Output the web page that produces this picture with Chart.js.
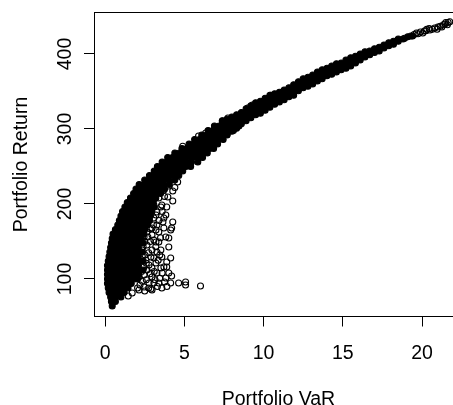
<!DOCTYPE html>
<html lang="en">
<head>
    <meta charset="UTF-8">
    <title>Portfolio VaR vs Return</title>
    <style>
        html, body { margin: 0; padding: 0; background: #fff; overflow: hidden; }
        /* the original plot runs a little past the right edge of the picture */
        #wrap { width: 453px; height: 405px; overflow: hidden; }
    </style>
</head>
<body>
    <div id="wrap"><canvas id="myChart" width="468" height="405"></canvas></div>

    <script src="https://cdn.jsdelivr.net/npm/chart.js"></script>
    <script>
        const xTicks = [0, 5, 10, 15, 20]
        const yTicks = [100, 200, 300, 400]

        // overplotted part on the left: one return level, then the VaR values on it
        const massReturn = [64, 70, 76, 82, 88, 94, 100, 106, 112, 118, 124, 130, 136, 142, 148, 154, 160, 166, 172, 178, 184, 190, 196, 202, 208, 214, 220, 226, 232, 238, 244, 250, 256, 262, 268, 274, 280, 286, 292, 298, 304]
        const massVar = [
            [.45],
            [.4, .65],
            [.35, .65, 1],
            [.25, .55, .85, 1.2],
            [.2, .5, .8, 1.1, 1.45],
            [.15, .45, .75, 1.05, 1.35, 1.65],
            [.15, .45, .75, 1.05, 1.35, 1.65, 1.85, 2.05],
            [.15, .45, .75, 1.05, 1.35, 1.65, 1.85, 2.1],
            [.15, .45, .75, 1.05, 1.35, 1.65, 1.85, 2.1, 2.4],
            [.15, .45, .75, 1.05, 1.35, 1.65, 1.85, 2.1],
            [.2, .5, .8, 1.1, 1.4, 1.7, 1.85, 2.1, 2.4],
            [.25, .55, .85, 1.15, 1.45, 1.7, 1.85, 2.1],
            [.3, .6, .9, 1.2, 1.5, 1.85, 2.1, 2.35],
            [.35, .65, .95, 1.25, 1.55, 1.85, 2.1],
            [.4, .7, 1, 1.3, 1.6, 1.9, 2.15, 2.4],
            [.45, .75, 1.05, 1.35, 1.65, 2, 2.25],
            [.5, .8, 1.1, 1.4, 1.7, 2, 2.2, 2.45],
            [.65, .95, 1.25, 1.55, 1.85, 2.1, 2.3, 2.5],
            [.8, 1.1, 1.4, 1.7, 2, 2.25, 2.45, 2.65],
            [.9, 1.2, 1.5, 1.8, 2.1, 2.35, 2.6, 2.8],
            [1, 1.3, 1.6, 1.9, 2.2, 2.45, 2.65, 2.85],
            [1.1, 1.4, 1.7, 2, 2.3, 2.55, 2.75, 2.95],
            [1.25, 1.55, 1.85, 2.15, 2.45, 2.7, 2.9, 3.1],
            [1.4, 1.7, 2, 2.3, 2.6, 2.8, 3],
            [1.6, 1.9, 2.2, 2.5, 2.8, 3, 3.2],
            [1.8, 2.1, 2.4, 2.7, 3, 3.25, 3.5],
            [1.95, 2.25, 2.55, 2.85, 3.15, 3.45, 3.75],
            [2.15, 2.45, 2.75, 3.05, 3.35, 3.7, 4.05],
            [2.5, 2.8, 3.1, 3.4, 3.7, 4.05, 4.4],
            [2.8, 3.1, 3.4, 3.7, 4, 4.35, 4.65],
            [3.1, 3.4, 3.7, 4, 4.3, 4.6, 4.9],
            [3.3, 3.6, 3.9, 4.2, 4.5, 4.8, 5.1, 5.4],
            [3.6, 3.9, 4.2, 4.5, 4.8, 5.1, 5.45, 5.85],
            [3.95, 4.25, 4.55, 4.85, 5.15, 5.5, 5.85, 6.15],
            [4.4, 4.7, 5, 5.3, 5.6, 5.9, 6.2, 6.45],
            [4.85, 5.15, 5.45, 5.75, 6.05, 6.35, 6.6, 6.85],
            [5.3, 5.6, 5.9, 6.2, 6.5, 6.8, 7.1],
            [5.65, 5.95, 6.25, 6.55, 6.85, 7.15, 7.45],
            [6.1, 6.4, 6.7, 7, 7.3, 7.7],
            [6.5, 6.8, 7.1, 7.4, 7.7, 8.1],
            [6.9, 7.2, 7.5, 7.8, 8.1, 8.45]
        ]

        // upper band: one VaR value, then the returns on it
        const bandVar = [7.4, 7.7, 8, 8.3, 8.6, 8.9, 9.2, 9.5, 9.8, 10.1, 10.4, 10.7, 11, 11.3, 11.6, 11.9, 12.2, 12.5, 12.8, 13.1, 13.4, 13.7, 14, 14.3, 14.6, 14.9, 15.2, 15.5, 15.8, 16.1, 16.4, 16.7, 17, 17.3, 17.6, 17.9, 18.2, 18.5, 18.8, 19.1, 19.4]
        const bandReturn = [
            [288, 294, 300, 306, 311],
            [293, 300, 307, 313],
            [297, 303, 310, 316],
            [301, 307, 313, 319],
            [307, 312, 317, 322],
            [311, 316, 322, 327],
            [315, 320, 326, 331],
            [319, 324, 330, 335],
            [321, 327, 332, 337],
            [325, 330, 336, 341],
            [329, 334, 340, 345],
            [333, 338, 343, 347],
            [336, 341, 345, 349],
            [339, 344, 348, 352],
            [343, 347, 351, 355],
            [345, 350, 355, 359],
            [351, 357, 363],
            [355, 361, 367],
            [357, 363, 369],
            [360, 366, 372],
            [364, 370, 376],
            [367, 373, 379],
            [371, 376, 381],
            [373, 378, 384],
            [376, 381, 387],
            [379, 384, 388],
            [381, 387, 392],
            [384, 390, 395],
            [388, 393, 397],
            [392, 396, 400],
            [396, 403],
            [399, 404],
            [402, 407],
            [404, 409],
            [408, 412],
            [411, 415],
            [413, 417],
            [417, 420],
            [420],
            [423],
            [424]
        ]

        // open circles that can still be told apart
        const looseVar = [6.02, 5.08, 5.08, 4.64, 4.2, 4.14, 3.83, 3.58, 2.96, 2.89, 3.08, 3.39, 4.14, 3.89, 4.02, 3.83, 4.02, 4.2, 4.27, 4.14, 3.71, 3.71, 3.83, 4.27, 4.27, 4.58, 3.96, 3.58, 3.27, 3.39, 3.21, 2.46, 3.52, 3.27, 3.58, 3.89, 3.71, 3.52, 4.02, 3.27, 2.96, 2.77, 2.46, 1.46, 1.71, 2.14, 2.33, 2.89, 3.21, 2.64, 2.96, 3.27, 2.77, 3.52, 3.89, 3.21, 3.39, 3.21, 2.96, 2.64, 2.96, 2.58, 2.52, 2.77, 2.46, 3.08, 2.64, 3.08, 2.77, 3.08, 3.39, 3.71, 4.02, 2.64, 3.08, 5.9, 6.35, 7.4, 7.75, 9, 9.3, 10.45, 4.9,
            2.05, 2.2, 2.35, 2.5, 2.6, 2.75, 2.85, 2.15, 2.3, 2.45, 2.6, 2.2, 2.35, 2.15, 2.4, 2.2, 2.5, 2.35, 2.25, 2.5, 2.7, 2.85, 2.55, 2.4, 2.7, 2.9, 3.05, 2.85, 2.75, 2.95, 3.1, 3.15, 3.3, 3.45, 3.6, 3.75, 3.9, 3.35, 3.45, 3.2, 3.5, 3.05, 3.2, 3.35, 3.55, 3.75, 3.6, 3, 2.85, 3.4, 3.65, 2.95, 4.4, 4.5, 4.2, 3.95, 4.75, 5,
            18.9, 19.3, 19.5, 19.65, 19.75, 19.9, 20.05, 20.15, 20.25, 20.3, 20.45, 20.5, 20.65, 20.8, 20.95, 21, 21.15, 21.25, 21.35, 21.45, 21.5, 21.6, 21.65, 21.75]
        const looseReturn = [90.7, 96, 92, 94.7, 104, 94.7, 101.3, 88, 85.3, 86.7, 94.7, 94.7, 128, 116, 142.7, 156, 154.7, 168, 176, 165.3, 168, 181.3, 185.3, 204, 217.3, 229.3, 209.3, 198.7, 189.3, 149.3, 149.3, 156, 138.7, 136, 129.3, 122.7, 116, 114.7, 108, 108, 102.7, 94.7, 89.3, 77.3, 81.3, 85.3, 138.7, 129.3, 121.3, 112, 168, 172, 178.7, 196, 196, 185.3, 162.7, 165.3, 158.7, 145.3, 138.7, 125.3, 132, 118.7, 105.3, 128, 162.7, 152, 189.3, 198.7, 208, 218.7, 224, 172, 181.3, 290.7, 294.7, 310.7, 314.7, 328, 332, 345, 277,
            88, 92, 97, 84, 99, 88, 107, 103, 110, 116, 121, 124, 130, 136, 143, 148, 150, 156, 163, 168, 156, 150, 178, 174, 185, 192, 172, 167, 135, 115, 110, 99, 90, 101, 108, 96, 90, 125, 132, 143, 155, 204, 212, 220, 228, 210, 190, 215, 205, 178, 176, 225, 222, 240, 232, 236, 252, 263,
            421, 424, 426, 428, 427, 429.3, 428, 430.7, 431, 433, 434, 432, 433, 434.7, 433, 436, 437, 436, 439, 440, 442, 439, 442, 443]

        const axisFont = { family: '"Liberation Sans", Arial, sans-serif', size: 19.5 }

        const massPoints = massReturn.flatMap((ret, i) => massVar[i].map(v => ({ x: v, y: ret })))
        const bandPoints = bandVar.flatMap((v, i) => bandReturn[i].map(ret => ({ x: v, y: ret })))
        const loosePoints = looseVar.map((v, i) => ({ x: v, y: looseReturn[i] }))

        // top of the box, the scales only give left and bottom
        const boxTop = {
            id: 'boxTop',
            afterDraw(chart) {
                const { ctx, chartArea } = chart
                ctx.save()
                ctx.strokeStyle = '#000'
                ctx.lineWidth = 1
                ctx.beginPath()
                ctx.moveTo(chartArea.left, Math.floor(chartArea.top) + .5)
                ctx.lineTo(chartArea.right, Math.floor(chartArea.top) + .5)
                ctx.stroke()
                ctx.restore()
            }
        }

        new Chart(document.getElementById('myChart'), {
            type: 'scatter',
            data: {
                datasets: [
                    { data: massPoints, pointRadius: 3, pointBorderWidth: 1.1, pointBorderColor: '#000', pointBackgroundColor: '#000' },
                    { data: bandPoints, pointRadius: 3, pointBorderWidth: 1.1, pointBorderColor: '#000', pointBackgroundColor: '#000' },
                    { data: loosePoints, pointRadius: 3, pointBorderWidth: 1.1, pointBorderColor: '#000', pointBackgroundColor: 'transparent' }
                ]
            },
            options: {
                responsive: false,
                animation: false,
                layout: { padding: { top: 12.5, right: 1, left: 0, bottom: 0 } },
                plugins: { legend: { display: false }, tooltip: { enabled: false } },
                scales: {
                    x: {
                        min: -0.7,
                        max: 22.58,
                        afterBuildTicks: s => { s.ticks = xTicks.map(value => ({ value })) },
                        afterFit: s => { s.height = 88.5; s.paddingLeft = 0; s.paddingRight = 0 },
                        border: { display: true, color: '#000', width: 1 },
                        grid: { drawOnChartArea: false, tickLength: 10, tickColor: '#000', tickWidth: 1 },
                        ticks: { color: '#000', font: axisFont, padding: 15.5, maxRotation: 0, autoSkip: false },
                        title: { display: true, text: 'Portfolio VaR', color: '#000', font: axisFont, padding: { top: 0, bottom: -6 } }
                    },
                    y: {
                        min: 50,
                        max: 455.3,
                        afterBuildTicks: s => { s.ticks = yTicks.map(value => ({ value })) },
                        afterFit: s => { s.width = 94; s.paddingTop = 0; s.paddingBottom = 0 },
                        border: { display: true, color: '#000', width: 1 },
                        grid: { drawOnChartArea: false, tickLength: 10, tickColor: '#000', tickWidth: 1 },
                        ticks: { color: '#000', font: axisFont, padding: 2, minRotation: 90, maxRotation: 90, crossAlign: 'center', autoSkip: false },
                        title: { display: true, text: 'Portfolio Return', color: '#000', font: axisFont, padding: { top: 10, bottom: 0 } }
                    }
                }
            },
            plugins: [boxTop]
        })
    </script>
</body>
</html>
